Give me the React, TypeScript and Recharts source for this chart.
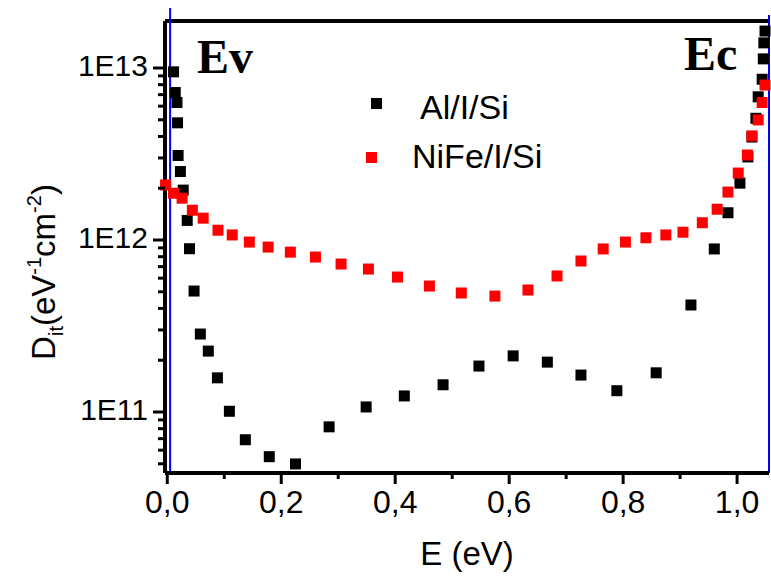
import React from 'react';
import { ScatterChart, Scatter, XAxis, YAxis, ReferenceLine, Legend, Label } from 'recharts';

// Al/I/Si (black squares)
const alE = [0.011, 0.014, 0.017, 0.018, 0.019, 0.023, 0.028, 0.035, 0.039, 0.047, 0.058, 0.072, 0.088, 0.109, 0.137, 0.179, 0.225, 0.284, 0.349, 0.416, 0.484, 0.547, 0.607, 0.667, 0.726, 0.789, 0.858, 0.919, 0.96, 0.984, 1.005, 1.019, 1.026, 1.033, 1.037, 1.044, 1.046, 1.047, 1.049];
const alDit = [9.5e12, 7.2e12, 6.3e12, 4.8e12, 3.1e12, 2.5e12, 1.95e12, 1.3e12, 8.9e11, 5.05e11, 2.84e11, 2.26e11, 1.58e11, 1.01e11, 6.9e10, 5.5e10, 4.99e10, 8.2e10, 1.07e11, 1.24e11, 1.44e11, 1.85e11, 2.12e11, 1.95e11, 1.64e11, 1.33e11, 1.69e11, 4.19e11, 8.87e11, 1.44e12, 2.14e12, 3.04e12, 3.97e12, 5.1e12, 6.8e12, 8.6e12, 1.13e13, 1.4e13, 1.64e13];

// NiFe/I/Si (red squares)
const nifeE = [-0.003, 0.011, 0.026, 0.044, 0.063, 0.089, 0.114, 0.144, 0.177, 0.216, 0.26, 0.305, 0.353, 0.404, 0.46, 0.516, 0.575, 0.633, 0.684, 0.726, 0.765, 0.804, 0.84, 0.875, 0.905, 0.939, 0.965, 0.984, 1.002, 1.018, 1.026, 1.037, 1.044, 1.049];
const nifeDit = [2.09e12, 1.87e12, 1.75e12, 1.49e12, 1.34e12, 1.14e12, 1.07e12, 9.73e11, 9.1e11, 8.5e11, 7.96e11, 7.25e11, 6.78e11, 6.09e11, 5.4e11, 4.92e11, 4.72e11, 5.12e11, 6.18e11, 7.55e11, 8.87e11, 9.73e11, 1.03e12, 1.07e12, 1.11e12, 1.26e12, 1.51e12, 1.9e12, 2.45e12, 3.12e12, 4.03e12, 4.99e12, 6.3e12, 7.96e12];

const seriesNames = ['Al/I/Si', 'NiFe/I/Si'];
const seriesColors = ['#000000', '#ff0000'];

// axes
const xTicks = [0, 0.1, 0.2, 0.3, 0.4, 0.5, 0.6, 0.7, 0.8, 0.9, 1.0];
const xMajorTicks = [0, 0.2, 0.4, 0.6, 0.8, 1.0];
const xTickLabels = ['0,0', '0,2', '0,4', '0,6', '0,8', '1,0'];
const yTicks = [5e10, 6e10, 7e10, 8e10, 9e10, 1e11, 2e11, 3e11, 4e11, 5e11, 6e11, 7e11, 8e11, 9e11, 1e12, 2e12, 3e12, 4e12, 5e12, 6e12, 7e12, 8e12, 9e12, 1e13];
const yMajorTicks = [1e11, 1e12, 1e13];
const yTickLabels = ['1E11', '1E12', '1E13'];
const xDomain = [-0.004, 1.056];
const yDomain = [4.42e10, 1.876e13];
const bandEdges = [0.005, 1.056]; // Ev / Ec markers

const SANS = '"Liberation Sans", Arial, sans-serif';
const SERIF = '"Liberation Serif", "Times New Roman", serif';

const alData = alE.map((e, i) => ({ e, dit: alDit[i] }));
const nifeData = nifeE.map((e, i) => ({ e, dit: nifeDit[i] }));

const Square = (props: any) => {
  const { cx, cy, fill } = props;
  return <rect x={cx - 5.5} y={cy - 5.5} width={11} height={11} fill={fill} />;
};

const XTick = (props: any) => {
  const { x, y, payload } = props;
  const idx = xMajorTicks.findIndex((t) => Math.abs(t - payload.value) < 1e-9);
  const major = idx >= 0;
  return (
    <g>
      <line x1={x} x2={x} y1={y} y2={y + (major ? 11 : 6)} stroke="#000" strokeWidth={3} />
      {major && (
        <text x={x} y={y + 40} textAnchor="middle" fontSize={32} fill="#000" fontFamily={SANS}>
          {xTickLabels[idx]}
        </text>
      )}
    </g>
  );
};

const YTick = (props: any) => {
  const { x, y, payload } = props;
  const idx = yMajorTicks.findIndex((t) => Math.abs(t - payload.value) / t < 1e-6);
  const major = idx >= 0;
  return (
    <g>
      <line x1={x - (major ? 12 : 7)} x2={x} y1={y} y2={y} stroke="#000" strokeWidth={3} />
      {major && (
        <text x={x - 17} y={y + 8} textAnchor="end" fontSize={30} fill="#000" fontFamily={SANS}>
          {yTickLabels[idx]}
        </text>
      )}
    </g>
  );
};

const YTitle = (props: any) => {
  const vb = props.viewBox || { x: 0, y: 21, width: 165, height: 452 };
  const cx = vb.x + 55;
  const cy = vb.y + vb.height / 2 + 25;
  return (
    <text transform={`rotate(-90 ${cx} ${cy})`} x={cx} y={cy} textAnchor="middle" fontSize={33} fill="#000" fontFamily={SANS}>
      D<tspan fontSize={20} dy={8}>it</tspan>
      <tspan dy={-8}>(eV</tspan>
      <tspan fontSize={20} dy={-14}>-1</tspan>
      <tspan dy={14}>cm</tspan>
      <tspan fontSize={20} dy={-14}>-2</tspan>
      <tspan dy={14}>)</tspan>
    </text>
  );
};

const legendPos = [
  { sx: 370.5, sy: 97.5, tx: 420, ty: 90 },
  { sx: 365.5, sy: 151.5, tx: 412, ty: 139 },
];

const renderLegend = () => (
  <div style={{ position: 'relative', width: 771, height: 0 }}>
    {seriesNames.map((name, i) => (
      <React.Fragment key={name}>
        <div style={{ position: 'absolute', left: legendPos[i].sx, top: legendPos[i].sy, width: 11, height: 11, background: seriesColors[i] }} />
        <div style={{ position: 'absolute', left: legendPos[i].tx, top: legendPos[i].ty, fontSize: 34, lineHeight: '34px', fontFamily: SANS, color: '#000', whiteSpace: 'nowrap' }}>
          {name}
        </div>
      </React.Fragment>
    ))}
  </div>
);

export default function App() {
  return (
    <div style={{ position: 'relative', width: 771, height: 578, background: '#fff' }}>
      <style>{'body{margin:0;background:#fff}'}</style>
      <ScatterChart width={771} height={578} margin={{ top: 21, right: 2, bottom: 0, left: 0 }}>
        <XAxis
          type="number"
          dataKey="e"
          domain={xDomain}
          ticks={xTicks}
          interval={0}
          tick={<XTick />}
          tickSize={0}
          tickMargin={0}
          tickLine={false}
          axisLine={{ stroke: '#000', strokeWidth: 4 }}
          height={105}
        >
          <Label value="E (eV)" position="insideBottom" offset={13} style={{ fontSize: 33, fill: '#000', fontFamily: SANS }} />
        </XAxis>
        <YAxis
          type="number"
          dataKey="dit"
          scale="log"
          domain={yDomain}
          ticks={yTicks}
          interval={0}
          tick={<YTick />}
          tickSize={0}
          tickMargin={0}
          tickLine={false}
          axisLine={{ stroke: '#000', strokeWidth: 4 }}
          width={165}
        >
          <Label content={YTitle} />
        </YAxis>
        <Legend content={renderLegend} layout="vertical" align="center" verticalAlign="middle" wrapperStyle={{ left: 0, top: 0, width: 771, height: 0 }} />
        <Scatter name={seriesNames[0]} data={alData} fill={seriesColors[0]} shape={Square} isAnimationActive={false} />
        <Scatter name={seriesNames[1]} data={nifeData} fill={seriesColors[1]} shape={Square} isAnimationActive={false} />
        <ReferenceLine y={yDomain[1]} stroke="#000" strokeWidth={4} ifOverflow="visible" />
        <ReferenceLine
          segment={[{ x: bandEdges[0], y: yDomain[0] }, { x: bandEdges[0], y: 2.23e13 }]}
          stroke="#0000ff"
          strokeWidth={2}
          ifOverflow="visible"
        />
        <ReferenceLine
          segment={[{ x: bandEdges[1], y: yDomain[0] }, { x: bandEdges[1], y: 2.03e13 }]}
          stroke="#0000ff"
          strokeWidth={2}
          ifOverflow="visible"
        />
      </ScatterChart>
      <svg width={771} height={578} style={{ position: 'absolute', left: 0, top: 0, pointerEvents: 'none' }}>
        <text x={197} y={73} fontSize={48} fontWeight="bold" fontFamily={SERIF} fill="#000">Ev</text>
        <text x={684} y={70} fontSize={48} fontWeight="bold" fontFamily={SERIF} fill="#000">Ec</text>
      </svg>
    </div>
  );
}
